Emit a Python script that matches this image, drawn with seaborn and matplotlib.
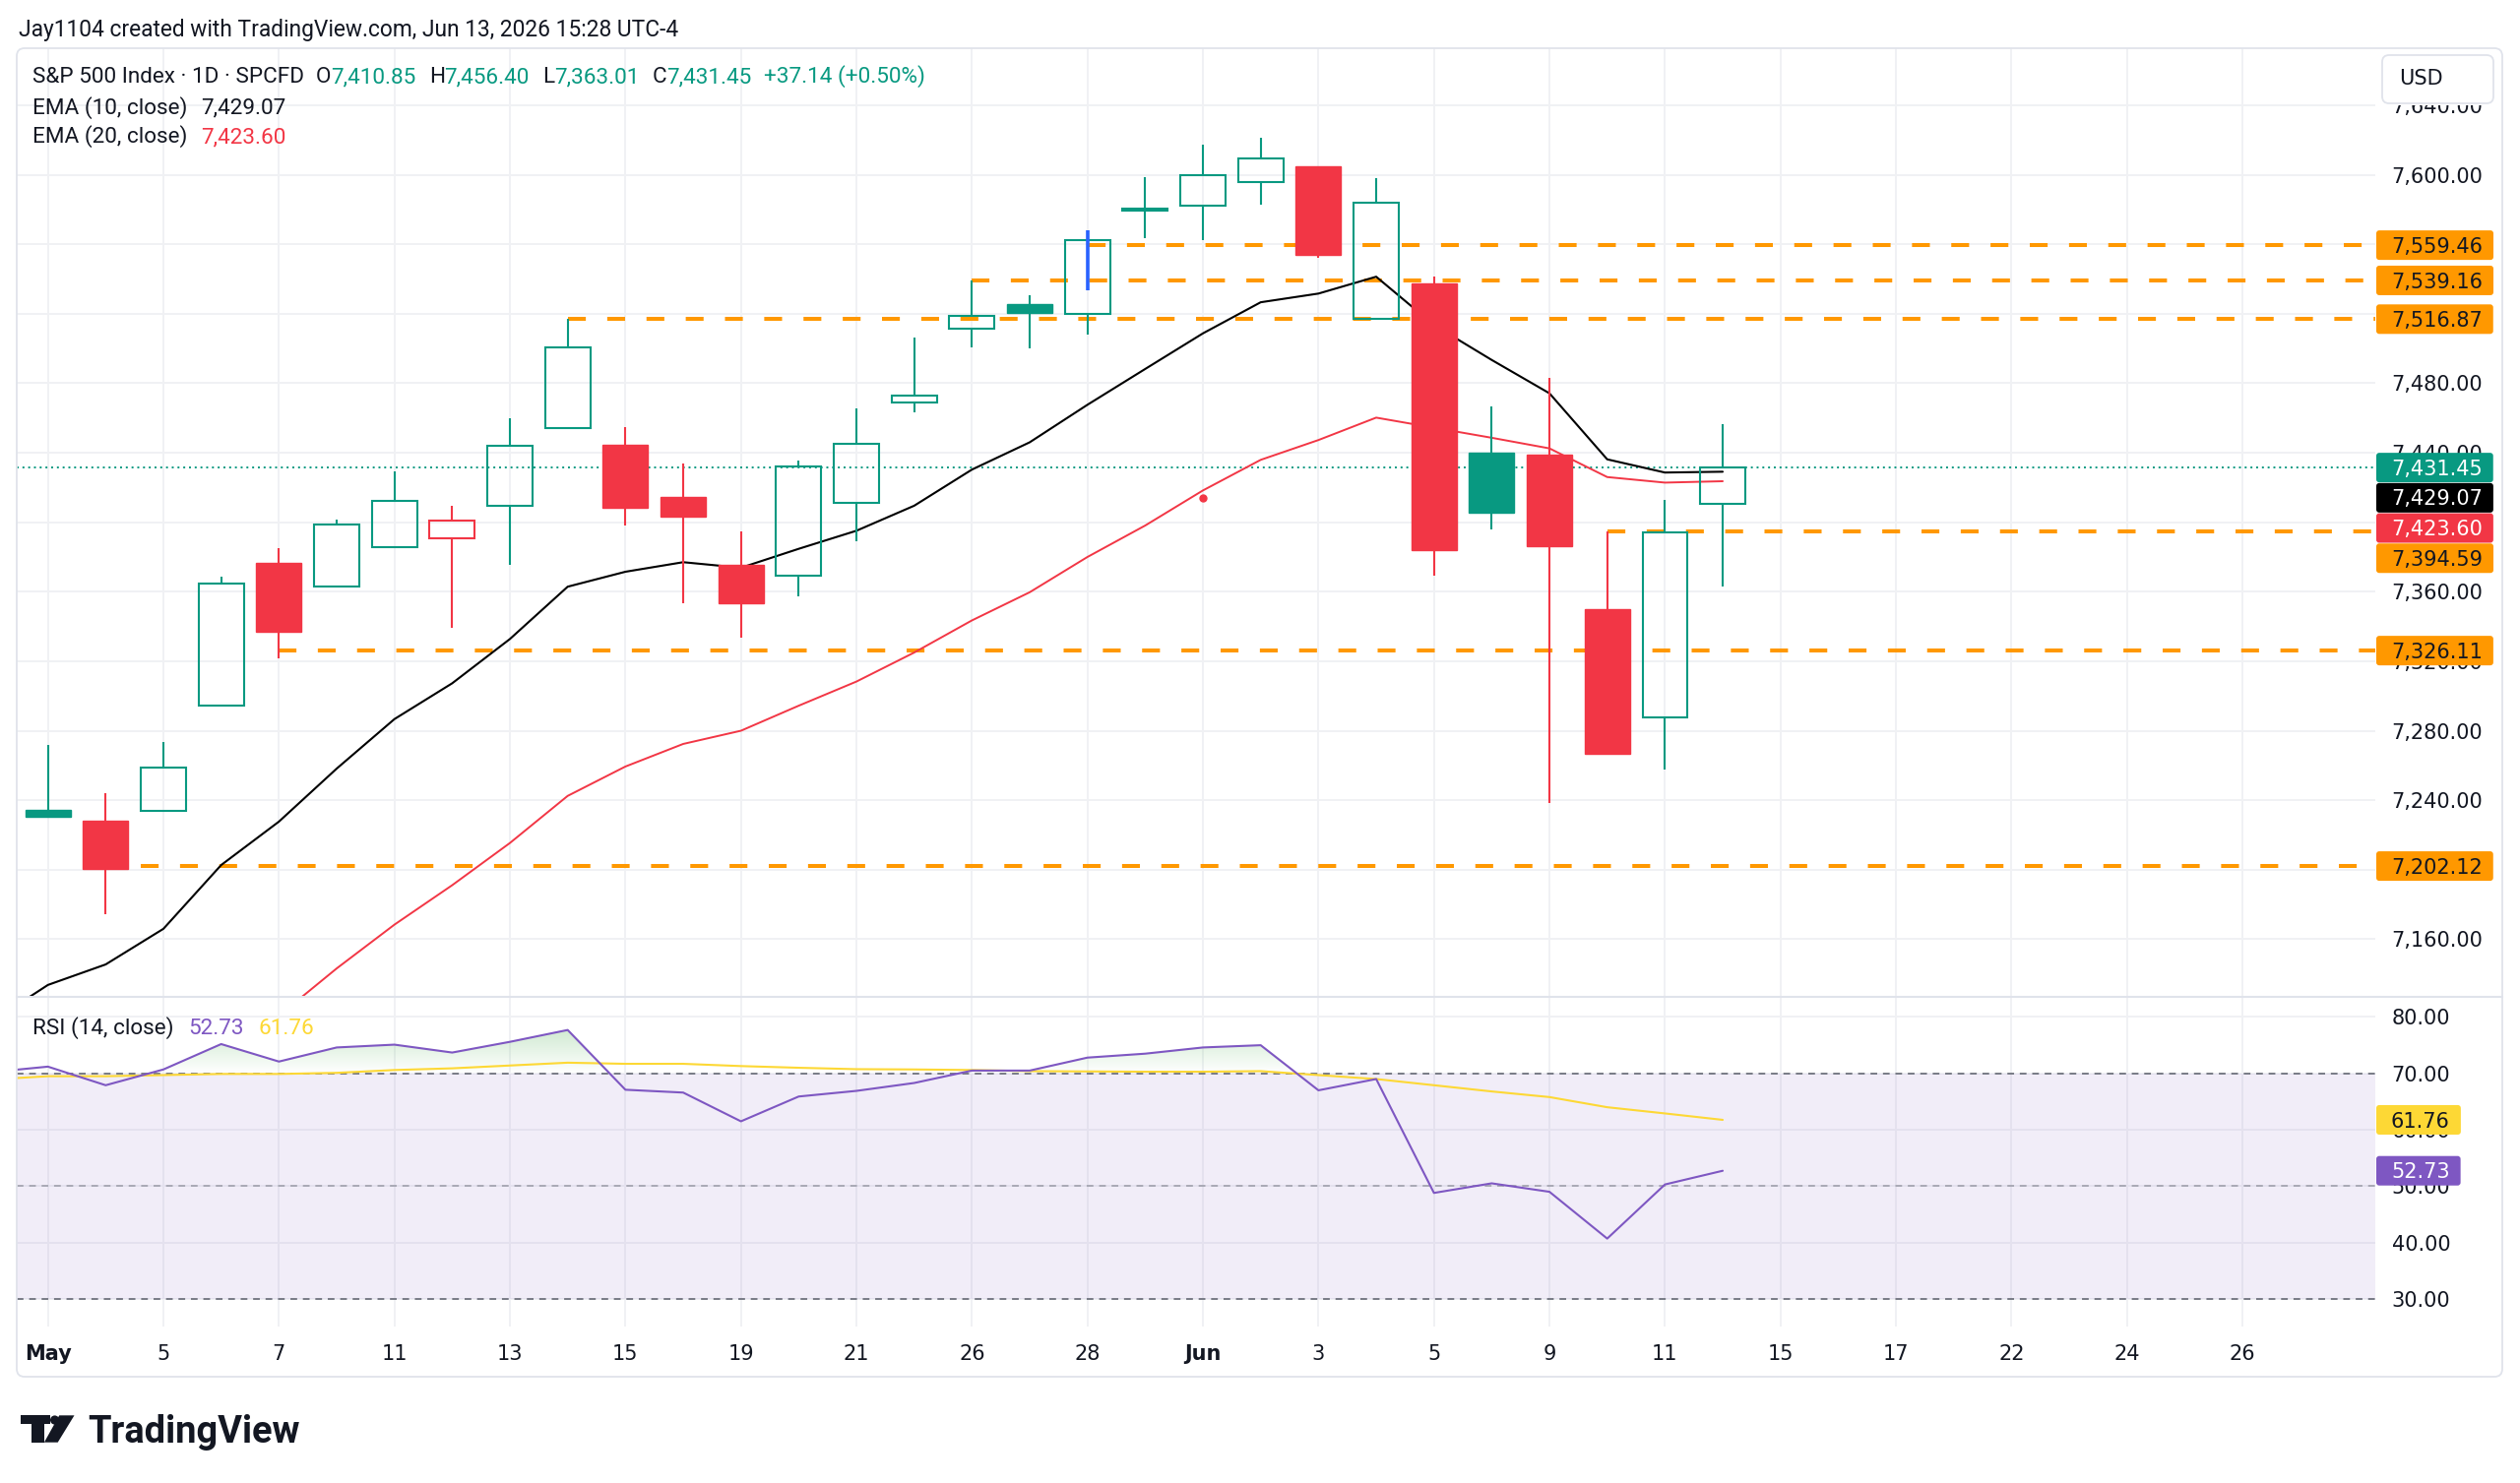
import numpy as np
import pandas as pd
import seaborn as sns
import matplotlib.pyplot as plt
from matplotlib.colors import to_rgb
from matplotlib.lines import Line2D
from matplotlib.patches import Rectangle, FancyBboxPatch, Circle, Polygon
from matplotlib.path import Path
from matplotlib.ticker import FuncFormatter
from matplotlib.transforms import IdentityTransform

# S&P 500 daily candles, May 1 - Jun 12 2026
day_ticks = [0, 2, 4, 6, 8, 10, 12, 14, 16, 18, 20, 22, 24, 26, 28, 30, 32, 34, 36, 38]
day_labels = ['May', '5', '7', '11', '13', '15', '19', '21', '26', '28',
              'Jun', '3', '5', '9', '11', '15', '17', '22', '24', '26']

opens = [7234.6, 7228.1, 7233.7, 7294.6, 7376.5, 7363.1, 7385.5, 7390.6, 7409.2, 7454.3,
         7444.8, 7414.8, 7375.4, 7369.2, 7410.9, 7468.7, 7511.6, 7525.5, 7519.7, 7579.4,
         7582.2, 7595.7, 7605.0, 7517.0, 7537.2, 7440.0, 7438.7, 7350.1, 7287.8, 7410.85]
highs = [7272.0, 7244.3, 7273.3, 7368.9, 7384.9, 7401.5, 7429.0, 7409.2, 7460.1, 7516.87,
         7454.5, 7434.0, 7395.0, 7435.6, 7465.5, 7506.2, 7539.16, 7530.8, 7568.0, 7598.8,
         7617.3, 7621.0, 7605.0, 7598.0, 7541.3, 7466.6, 7482.8, 7394.59, 7412.6, 7456.40]
lows = [7230.0, 7174.4, 7233.7, 7294.6, 7321.7, 7363.1, 7384.9, 7339.0, 7375.4, 7454.3,
        7398.0, 7353.5, 7333.8, 7357.6, 7389.3, 7463.4, 7500.9, 7500.0, 7507.9, 7563.7,
        7562.6, 7583.0, 7551.9, 7517.0, 7369.0, 7395.7, 7238.4, 7266.5, 7257.7, 7363.01]
closes = [7230.5, 7200.4, 7258.9, 7364.7, 7336.9, 7398.7, 7412.4, 7400.8, 7444.1, 7500.6,
          7408.2, 7403.2, 7353.5, 7432.2, 7445.4, 7472.9, 7518.7, 7520.4, 7562.5, 7580.3,
          7599.8, 7609.4, 7553.7, 7583.8, 7383.8, 7405.6, 7386.3, 7266.5, 7394.31, 7431.45]
apr30_close = 7226.0

ema10_x = list(range(-1, 30))
ema10 = [7112.0, 7133.7, 7145.5, 7166.0, 7202.7, 7227.7, 7258.2, 7286.7, 7307.3, 7332.8,
         7362.9, 7371.5, 7377.0, 7373.8, 7384.7, 7395.1, 7409.5, 7430.3, 7446.0, 7467.6,
         7488.2, 7508.7, 7526.6, 7531.6, 7541.3, 7513.5, 7493.4, 7474.2, 7436.2, 7428.6, 7429.07]
ema20_x = list(range(0, 30))
ema20 = [7027.0, 7044.0, 7064.0, 7093.0, 7116.0, 7143.2, 7168.4, 7191.1, 7215.4, 7242.5,
         7259.4, 7272.4, 7280.0, 7294.4, 7308.3, 7325.0, 7343.5, 7359.7, 7380.0, 7398.1,
         7418.3, 7435.9, 7447.3, 7460.2, 7454.4, 7448.6, 7442.5, 7426.0, 7422.8, 7423.60]

rsi_x = list(range(-1, 30))
rsi = [70.2, 71.2, 67.9, 70.7, 75.2, 72.1, 74.6, 75.1, 73.7, 75.6, 77.7, 67.1, 66.6, 61.5,
       65.9, 66.9, 68.3, 70.5, 70.5, 72.8, 73.5, 74.6, 75.0, 67.0, 69.0, 48.8, 50.5, 49.0,
       40.7, 50.3, 52.73]
rsi_ma = [68.9, 69.5, 69.5, 69.7, 69.9, 69.9, 70.1, 70.6, 70.9, 71.4, 71.9, 71.7, 71.7, 71.3,
          71.0, 70.75, 70.7, 70.6, 70.4, 70.35, 70.3, 70.3, 70.4, 69.7, 69.0, 67.9, 66.8, 65.8,
          64.0, 62.9, 61.76]

# horizontal levels drawn on the chart (price, first bar)
level_prices = [7559.46, 7539.16, 7516.87, 7394.59, 7326.11, 7202.12]
level_starts = [18, 16, 9, 27, 4, 1.6]

price_ticks = [7160, 7200, 7240, 7280, 7320, 7360, 7400, 7440, 7480, 7520, 7560, 7600, 7640]
rsi_ticks = [30, 40, 50, 60, 70, 80]

# small drawings on the chart
marker_bar, marker_lo, marker_hi = 18, 7533.6, 7568.0
dot_bar, dot_price = 20, 7414.0

GREEN = '#089981'
RED = '#F23645'
ORANGE = '#FF9800'
PURPLE = '#7E57C2'
YELLOW = '#FDD835'
DARK = '#131722'
GRID = '#F0F1F4'
BORDER = '#E0E3EB'

W, H = 2560, 1507
XMIN, XMAX = -0.54, 40.3
LEG = 16.2

sns.set_theme(style='white')
plt.rcParams['font.family'] = ['DejaVu Sans']

fig = plt.figure(figsize=(W / 100, H / 100), dpi=100)
fig.patch.set_facecolor('white')


def px_box(x0, y0, x1, y1):
    return [x0 / W, 1 - y1 / H, (x1 - x0) / W, (y1 - y0) / H]


ax = fig.add_axes(px_box(17, 49, 2413, 1012))
ax_rsi = fig.add_axes(px_box(17, 1014, 2413, 1348))

for a in (ax, ax_rsi):
    a.set_facecolor('white')
    for s in a.spines.values():
        s.set_visible(False)
    a.set_axisbelow(True)
    a.set_xticks(day_ticks)
    a.grid(True, color=GRID, lw=1.4)

# ---- price pane ----
o, h, l, c = map(np.array, (opens, highs, lows, closes))
idx = np.arange(len(c))
prev = np.r_[apr30_close, c[:-1]]
cols = np.where(c >= prev, GREEN, RED)
hollow = c > o
top = np.maximum(o, c)
bot = np.minimum(o, c)

ax.hlines(level_prices, level_starts, XMAX, colors=ORANGE, lw=2.9,
          linestyles=[(0, (4.5, 5.4))], zorder=2.2)
ax.axhline(c[-1], color=GREEN, lw=1.4, ls=(0, (1, 2)), zorder=2.3)

sns.lineplot(x=ema10_x, y=ema10, ax=ax, color='black', linewidth=1.5, zorder=3)
sns.lineplot(x=ema20_x, y=ema20, ax=ax, color=RED, linewidth=1.4, zorder=3)

ax.vlines(idx, top, h, colors=cols, lw=1.5, zorder=4)
ax.vlines(idx, l, bot, colors=cols, lw=1.5, zorder=4)
ax.bar(idx[hollow], (top - bot)[hollow], bottom=bot[hollow], width=0.78,
       facecolor='none', edgecolor=cols[hollow], lw=1.5, zorder=4)
ax.bar(idx[~hollow], (top - bot)[~hollow], bottom=bot[~hollow], width=0.78,
       color=cols[~hollow], edgecolor=cols[~hollow], lw=1.0, zorder=4)

ax.vlines(marker_bar, marker_lo, marker_hi, color='#2962FF', lw=2.6, zorder=5)
ax.plot([dot_bar], [dot_price], 'o', color=RED, ms=5, zorder=5)

ax.set_xlim(XMIN, XMAX)
ax.set_ylim(7127.4, 7672.8)
ax.set_yticks(price_ticks)
ax.yaxis.tick_right()
ax.tick_params(axis='y', length=0, pad=12, labelsize=15, labelcolor=DARK)
ax.tick_params(axis='x', length=0, labelbottom=False)
ax.set_xlabel('')
ax.set_ylabel('')

# ---- RSI pane ----
ax_rsi.axhspan(30, 70, color=PURPLE, alpha=0.1, lw=0, zorder=0.8)
ax_rsi.axhline(70, color='#787B86', lw=1.4, ls=(0, (3.5, 3)), zorder=1.5)
ax_rsi.axhline(30, color='#787B86', lw=1.4, ls=(0, (3.5, 3)), zorder=1.5)
ax_rsi.axhline(50, color='#787B86', lw=1.4, ls=(0, (3.5, 3)), alpha=0.55, zorder=1.5)

r = np.array(rsi)
fb = ax_rsi.fill_between(rsi_x, r, 70, where=r >= 70, interpolate=True,
                         facecolor='none', edgecolor='none')
clip = Path.make_compound_path(*fb.get_paths())
grad = np.zeros((64, 1, 4))
grad[:, 0, :3] = to_rgb('#4CAF50')
grad[:, 0, 3] = np.linspace(0.26, 0.0, 64)
im = ax_rsi.imshow(grad, extent=(XMIN, 30, 70, r.max()), origin='upper',
                   aspect='auto', interpolation='bilinear', zorder=1.2)
im.set_clip_path(clip, transform=ax_rsi.transData)

sns.lineplot(x=rsi_x, y=rsi_ma, ax=ax_rsi, color=YELLOW, linewidth=1.5, zorder=3)
sns.lineplot(x=rsi_x, y=rsi, ax=ax_rsi, color=PURPLE, linewidth=1.5, zorder=3.2)

ax_rsi.set_xlim(XMIN, XMAX)
ax_rsi.set_ylim(25.1, 83.4)
ax_rsi.set_yticks(rsi_ticks)
ax_rsi.yaxis.tick_right()
ax_rsi.tick_params(axis='y', length=0, pad=12, labelsize=15, labelcolor=DARK)
ax_rsi.set_xticklabels(day_labels)
ax_rsi.tick_params(axis='x', length=0, pad=13, labelsize=15, labelcolor=DARK)
for lbl in ax_rsi.get_xticklabels():
    if lbl.get_text() in ('May', 'Jun'):
        lbl.set_fontweight('bold')
ax_rsi.set_xlabel('')
ax_rsi.set_ylabel('')

# ---- frame, separators, currency box ----
ident = IdentityTransform()
fig.add_artist(FancyBboxPatch((17, H - 1399), 2542 - 17, 1399 - 49,
                              boxstyle='round,pad=0,rounding_size=8', transform=ident,
                              fc='none', ec=BORDER, lw=1.3, zorder=5))
fig.add_artist(Line2D([17, 2542], [H - 1013, H - 1013], transform=ident,
                      color=BORDER, lw=1.5, zorder=5))
# the currency box hides the top of the highest axis label
fig.add_artist(Rectangle((2416, H - 106.5), 122, 12, transform=ident,
                         fc='white', ec='none', zorder=5.9))
fig.add_artist(FancyBboxPatch((2420, H - 105), 113, 49,
                              boxstyle='round,pad=0,rounding_size=7', transform=ident,
                              fc='white', ec=BORDER, lw=1.3, zorder=6))
fig.text(2437 / W, (H - 86.5) / H, 'USD', fontsize=15, color=DARK, va='baseline', zorder=7)

renderer = fig.canvas.get_renderer()


def seg_text(x, y_base, parts, size, family='Roboto', weight='normal'):
    for txt, col, gap in parts:
        x += gap
        t = fig.text(x / W, (H - y_base) / H, txt, color=col, fontsize=size,
                     family=family, weight=weight, va='baseline', ha='left', zorder=7)
        x = t.get_window_extent(renderer).x1


def fmt(v):
    return f"{v:,.2f}"


chg = c[-1] - c[-2]
pct = chg / c[-2] * 100

seg_text(19, 36.5, [('Jay1104 created with TradingView.com, Jun 13, 2026 15:28 UTC-4', DARK, 0)], 16.4)
seg_text(33, 84, [('S&P 500 Index · 1D · SPCFD', DARK, 0),
                  ('O', DARK, 12), (fmt(o[-1]), GREEN, 0),
                  ('H', DARK, 13), (fmt(h[-1]), GREEN, 0),
                  ('L', DARK, 13), (fmt(l[-1]), GREEN, 0),
                  ('C', DARK, 13), (fmt(c[-1]), GREEN, 0),
                  (f"{chg:+.2f} ({pct:+.2f}%)", GREEN, 13)], LEG)
seg_text(33, 115.5, [('EMA (10, close)', DARK, 0), (fmt(ema10[-1]), DARK, 14)], LEG)
seg_text(33, 145, [('EMA (20, close)', DARK, 0), (fmt(ema20[-1]), RED, 14)], LEG)
seg_text(33, 1051, [('RSI (14, close)', DARK, 0), (f"{rsi[-1]:.2f}", PURPLE, 15),
                    (f"{rsi_ma[-1]:.2f}", YELLOW, 14)], LEG)


# ---- price tags on the axis ----
def draw_tags(a, tags, label_fmt):
    centers = []
    last_yc = None
    for value, face, fg in sorted(tags, key=lambda t: -t[0]):
        yc = a.transData.transform((0, value))[1]
        if last_yc is not None and yc > last_yc - 30.7:
            yc = last_yc - 30.7
        last_yc = yc
        centers.append(yc)
        t = fig.text(2429 / W, (yc - 7.6) / H, label_fmt(value), color=fg, fontsize=15,
                     va='baseline', ha='left', zorder=8)
        bb = t.get_window_extent(renderer)
        fig.add_artist(FancyBboxPatch((2414, yc - 15), bb.x1 + 11 - 2414, 30,
                                      boxstyle='round,pad=0,rounding_size=3', transform=ident,
                                      fc=face, ec='none', zorder=7.5))

    # axis labels that sit fully under a tag are not shown
    def tick_fmt(v, _):
        y = a.transData.transform((0, v))[1]
        if any(abs(y - cy) < 9 for cy in centers):
            return ''
        return label_fmt(v)
    a.yaxis.set_major_formatter(FuncFormatter(tick_fmt))


price_tags = [(lv, ORANGE, DARK) for lv in level_prices]
price_tags += [(c[-1], GREEN, 'white'), (ema10[-1], 'black', 'white'), (ema20[-1], RED, 'white')]
draw_tags(ax, price_tags, fmt)
draw_tags(ax_rsi, [(rsi_ma[-1], YELLOW, DARK), (rsi[-1], PURPLE, 'white')], lambda v: f"{v:.2f}")

# ---- TradingView logo ----
logo_parts = [
    Rectangle((21.4, H - 1446.7), 29.6, 8.4),
    Rectangle((31.6, H - 1465.7), 13.3, 27.4),
    Circle((55.6, H - 1443.0), 4.6),
    Polygon([(60.2, H - 1438.3), (75.5, H - 1438.3), (58.7, H - 1465.7), (44.9, H - 1465.7)]),
]
for p in logo_parts:
    p.set_transform(ident)
    p.set_facecolor(DARK)
    p.set_edgecolor('none')
    p.set_zorder(7)
    fig.add_artist(p)
seg_text(89, 1465.7, [('TradingView', DARK, 0)], 27.4, weight='bold')

fig.savefig('out.png', dpi=100, facecolor='white')
